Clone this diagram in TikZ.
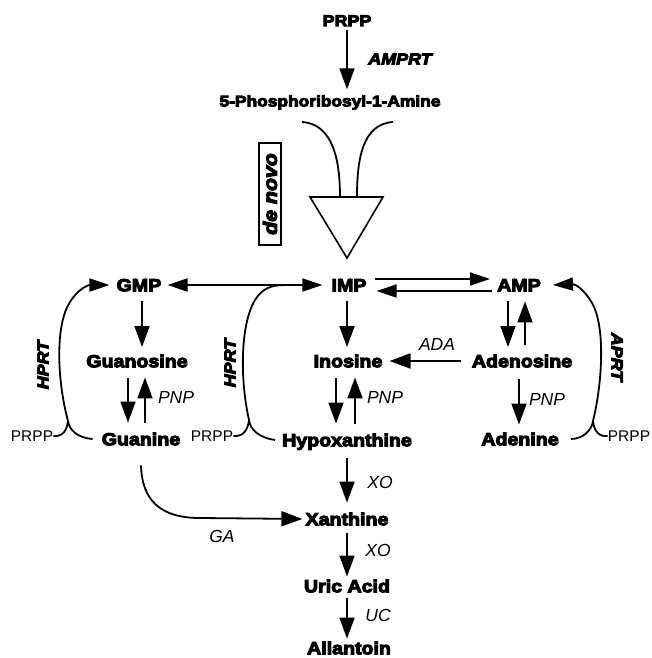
\documentclass[tikz,border=0pt]{standalone}
\usepackage{fontspec}
\usetikzlibrary{arrows.meta}
\newfontfamily\heavy{Liberation Sans Bold}[FakeStretch=1.12,FakeBold=6]
\newfontfamily\heavyit{Liberation Sans Bold Italic}[FakeStretch=1.12,FakeBold=6]
\newfontfamily\lit{Liberation Sans Italic}
\newfontfamily\lreg{Liberation Sans}
\begin{document}
\begin{tikzpicture}[x=1pt,y=-1pt,
  met/.style={font=\heavy\fontsize{17.5}{20}\selectfont, inner sep=0pt, text height=12.5pt, text depth=0pt},
  enz/.style={font=\lit\fontsize{17.5}{20}\selectfont, inner sep=0pt},
  enzb/.style={font=\heavyit\fontsize{16}{19}\selectfont, inner sep=0pt},
  sub/.style={font=\lreg\fontsize{15.5}{18}\selectfont, inner sep=0pt},
  arr/.style={line width=1.8pt, -{Triangle[length=21pt,width=15pt]}},
  harr/.style={line width=1.8pt, -{Triangle[length=20pt,width=13pt]}},
  curve/.style={line width=1.8pt}
]
\useasboundingbox (0,0) rectangle (651,658);

% top
\node[met, font=\heavy\fontsize{16}{19}\selectfont] (prpp0) at (347,20) {PRPP};
\node[enzb] (amprt) at (400,59) {AMPRT};
\node[met, font=\heavy\fontsize{15.5}{18}\selectfont, text height=11pt] (pra) at (330,101) {5-Phosphoribosyl-1-Amine};
\draw[arr, shorten <=4pt, shorten >=6pt] (prpp0.south) -- (prpp0.south |- pra.north);

% de novo funnel
\draw[curve] (302,122) .. controls (333,124) and (340,160) .. (340,197);
\draw[curve] (393,122) .. controls (362,124) and (357,160) .. (357,197);
\draw[line width=1.6pt, line join=miter] (310,197) -- (383,197) -- (347,258) -- cycle;
\node[draw, line width=1.5pt, rotate=90, font=\heavyit\fontsize{19}{22}\selectfont,
      minimum width=102pt, minimum height=22pt, inner sep=0pt] (denovo) at (270,194) {de novo};

% metabolites
\node[met] (gmp) at (139,285) {GMP};
\node[met] (imp) at (349,285) {IMP};
\node[met] (amp) at (519,285) {AMP};
\node[met] (guo) at (137,361) {Guanosine};
\node[met] (ino) at (348,361) {Inosine};
\node[met] (ado) at (522,361) {Adenosine};
\node[met] (gua) at (141,439) {Guanine};
\node[met] (hyp) at (347,440) {Hypoxanthine};
\node[met] (ade) at (520,439) {Adenine};
\node[met] (xan) at (347,519) {Xanthine};
\node[met] (uric) at (347,586) {Uric Acid};
\node[met] (all) at (349,648) {Allantoin};

\node[sub] (pL) at (32,436) {PRPP};
\node[sub] (pM) at (212,436) {PRPP};
\node[sub] (pR) at (629,436) {PRPP};

% enzyme labels
\node[enzb, rotate=90] (hprtL) at (43,365) {HPRT};
\node[enzb, rotate=90] (hprtM) at (230,363) {HPRT};
\node[enzb, rotate=-90] (aprt) at (617,357) {APRT};
\node[enz] (ada) at (437,344) {ADA};
\node[enz] (pnp1) at (176,397) {PNP};
\node[enz] (pnp2) at (385,397) {PNP};
\node[enz] (pnp3) at (547,399) {PNP};
\node[enz] (xo1) at (380,482) {XO};
\node[enz] (ga) at (222,536) {GA};
\node[enz] (xo2) at (378,550) {XO};
\node[enz] (uc) at (378,615) {UC};

% IMP -> GMP
\draw[harr, shorten <=25pt, shorten >=6pt] (imp.west) -- (gmp.east);

% salvage curves
\draw[curve] (pL.east) .. controls (63,437) and (67,430) .. (68,421);
\draw[harr] ([xshift=-9pt]gua.west) .. controls (78,438) and (69,430) .. (68,421)
   .. controls (57,380) and (55,325) .. (70,302) .. controls (78,289) and (88,285) .. ([xshift=-7pt]gmp.west);

\draw[curve] (pM.east) .. controls (243,437) and (248,430) .. (249,420);
\draw[harr] ([xshift=-7pt]hyp.west) .. controls (260,438) and (250,430) .. (249,420)
   .. controls (240,380) and (240,325) .. (255,300) .. controls (262,289) and (270,285) .. (285,285)
   -- ([xshift=-9pt]imp.west);

\draw[curve] (pR.west) .. controls (598,437) and (594,430) .. (593,421);
\draw[harr] ([xshift=12pt]ade.east) .. controls (583,439) and (592,430) .. (593,421)
   .. controls (603,380) and (605,325) .. (592,303) .. controls (584,289) and (575,284) .. ([xshift=12pt]amp.east);

% IMP <-> AMP
\draw[harr, shorten <=8pt, shorten >=7pt] ([yshift=6pt]imp.east) -- ([yshift=6pt]amp.west);
\draw[harr, shorten <=5pt, shorten >=10pt] ([yshift=-6pt]amp.west) -- ([yshift=-6pt]imp.east);

% row 1 -> row 2
\draw[arr, shorten <=10pt, shorten >=7.5pt] ([xshift=3pt]gmp.south) -- ([xshift=3pt]gmp.south |- guo.north);
\draw[arr, shorten <=10pt, shorten >=7.5pt] ([xshift=-2pt]imp.south) -- ([xshift=-2pt]imp.south |- ino.north);
\draw[arr, shorten <=10pt, shorten >=7.5pt] ([xshift=-11pt]amp.south) -- ([xshift=-11pt]amp.south |- ado.north);
\draw[arr, shorten <=10pt, shorten >=10pt] ([xshift=6pt]amp.south |- ado.north) -- ([xshift=6pt]amp.south);

% ADA
\draw[arr, shorten <=11pt, shorten >=7pt] (ado.west) -- (ino.east);

% row 2 <-> row 3
\draw[arr, shorten <=11pt, shorten >=10pt] ([xshift=-9pt]guo.south) -- ([xshift=-9pt]guo.south |- gua.north);
\draw[arr, shorten <=10pt, shorten >=10pt] ([xshift=8pt]guo.south |- gua.north) -- ([xshift=8pt]guo.south);
\draw[arr, shorten <=11pt, shorten >=10pt] ([xshift=-12pt]ino.south) -- ([xshift=-12pt]ino.south |- hyp.north);
\draw[arr, shorten <=10pt, shorten >=10pt] ([xshift=7pt]ino.south |- hyp.north) -- ([xshift=7pt]ino.south);
\draw[arr, shorten <=12pt, shorten >=8pt] ([xshift=-3pt]ado.south) -- ([xshift=-3pt]ado.south |- ade.north);

% degradation
\draw[arr, shorten <=12pt, shorten >=10pt] (hyp.south) -- (hyp.south |- xan.north);
\draw[arr, shorten <=8pt, shorten >=3pt] (xan.south) -- (xan.south |- uric.north);
\draw[arr, shorten <=6pt, shorten >=3pt] (uric.south) -- (uric.south |- all.north);

% GA
\draw[arr, shorten >=3pt] ([yshift=-20pt]gua.south) .. controls (142,500) and (160,518) .. (200,518) -- (xan.west);
\end{tikzpicture}
\end{document}
